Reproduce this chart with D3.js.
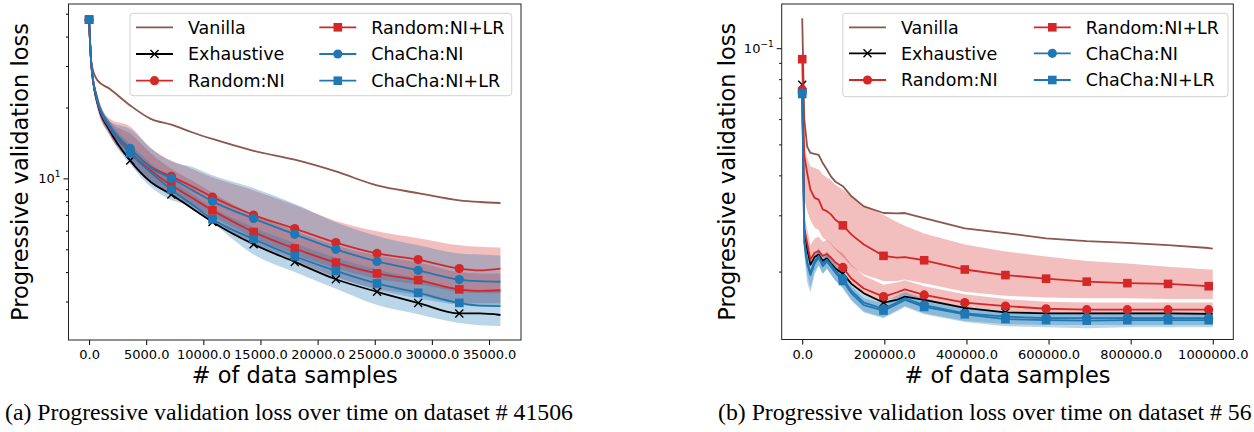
<!DOCTYPE html>
<html>
<head>
<meta charset="utf-8">
<script src="https://cdn.jsdelivr.net/npm/d3@7"></script>
<style>
  body { margin: 0; background: #fff; }
</style>
</head>
<body>
<svg id="chart" width="1254" height="432" style="font-family: 'DejaVu Sans', sans-serif;"></svg>
<script>
// ---------- panel (a): dataset # 41506 ----------
var xA = [0, 200, 700, 1800, 3600, 5400, 7200, 9000, 10800, 14400, 18000, 21600, 25200, 28800, 32400, 34200, 36000];
var markA = [0, 4, 6, 8, 9, 10, 11, 12, 13, 14];

var vanillaA    = [47.2, 31, 26.2, 24.0, 20.4, 17.9, 16.9, 15.7, 14.7, 13.1, 12.0, 10.7, 9.34, 8.66, 8.07, 7.94, 7.86];
var exhaustiveA = [47.2, 30, 21.2, 16.0, 11.9, 9.65, 8.55, 7.46, 6.53, 5.25, 4.42, 3.73, 3.30, 2.96, 2.67, 2.67, 2.63];
var randNIA     = [47.2, 30.5, 21.8, 16.6, 13.3, 11.2, 10.2, 9.25, 8.33, 6.99, 6.12, 5.34, 4.80, 4.52, 4.14, 4.07, 4.14];
var randNIA_hi  = [47.2, 31, 23, 17.9, 16.6, 13.4, 11.9, 11.0, 10.1, 8.9, 7.7, 6.6, 5.96, 5.57, 5.2, 5.12, 5.09];
var randNIA_lo  = [47.2, 29, 20.5, 15.5, 12.0, 9.8, 8.7, 7.7, 6.9, 5.6, 4.75, 4.15, 3.75, 3.55, 3.3, 3.25, 3.25];
var randLRA     = [47.2, 30.5, 21.4, 16.3, 12.9, 10.8, 9.34, 8.27, 7.32, 5.92, 5.04, 4.39, 3.95, 3.70, 3.38, 3.33, 3.35];
var randLRA_hi  = [47.2, 31, 23, 17.5, 15.5, 12.8, 11.0, 9.8, 8.7, 7.0, 6.0, 5.2, 4.7, 4.4, 4.0, 3.95, 3.95];
var randLRA_lo  = [47.2, 29, 20, 15.2, 11.8, 9.6, 8.4, 7.4, 6.5, 5.2, 4.4, 3.8, 3.4, 3.2, 2.95, 2.95, 2.95];
var chaNIA      = [47.2, 30.5, 21.8, 16.8, 13.4, 11.1, 10.0, 8.94, 7.99, 6.75, 5.79, 5.00, 4.44, 4.07, 3.72, 3.66, 3.64];
var chaNIA_hi   = [47.2, 31, 23, 17.5, 16.2, 13.5, 11.8, 11.2, 10.3, 9.1, 7.8, 6.5, 5.7, 5.2, 4.8, 4.75, 4.7];
var chaNIA_lo   = [47.2, 29, 20.5, 15.5, 12.0, 9.7, 8.5, 7.5, 6.6, 5.3, 4.5, 3.8, 3.35, 3.1, 2.9, 2.86, 2.86];
var chaLRA      = [47.2, 30.5, 21.5, 16.5, 12.8, 10.6, 8.96, 7.76, 6.70, 5.53, 4.67, 4.05, 3.58, 3.27, 2.96, 2.88, 2.87];
var chaLRA_hi   = [47.2, 31, 22.5, 17.5, 14.0, 11.6, 9.9, 8.6, 7.5, 6.2, 5.3, 4.6, 4.1, 3.75, 3.4, 3.35, 3.35];
var chaLRA_lo   = [47.2, 29, 20.5, 15.3, 11.5, 9.2, 8.1, 7.6, 6.5, 4.75, 4.0, 3.4, 2.9, 2.65, 2.43, 2.38, 2.36];

var xTicksA = [0, 5000, 10000, 15000, 20000, 25000, 30000, 35000];
var yMajorA = [10];
var yMinorA = [3, 4, 5, 6, 7, 8, 9, 20, 30, 40, 50];

// ---------- panel (b): dataset # 56 ----------
var xB = [0, 5000, 12000, 20000, 30000, 40000, 50000, 60000, 70000, 80000, 99000, 120000, 150000,
          198000, 230000, 250000, 297000, 396000, 495000, 594000, 693000, 792000, 891000, 990000, 1000000];
var markB = [0, 10, 13, 16, 17, 18, 19, 20, 21, 22, 23];

var vanillaB    = [0.124, 0.060, 0.0492, 0.047, 0.0467, 0.0464, 0.0437, 0.0417, 0.0397, 0.0383, 0.0370, 0.0344, 0.0320, 0.0305, 0.0304, 0.0305, 0.0294, 0.0273, 0.0264, 0.0254, 0.0249, 0.0246, 0.0242, 0.0237, 0.0236];
var exhaustiveB = [0.0768, 0.027, 0.0235, 0.021, 0.0222, 0.0226, 0.0216, 0.0220, 0.0212, 0.0205, 0.0197, 0.0183, 0.0171, 0.0160, 0.0163, 0.0167, 0.0163, 0.0154, 0.0149, 0.0148, 0.0148, 0.0148, 0.0148, 0.01475, 0.01475];
var randNIB     = [0.074, 0.0271, 0.0246, 0.0218, 0.0229, 0.0232, 0.0224, 0.0227, 0.0221, 0.0214, 0.0206, 0.0190, 0.0177, 0.0167, 0.0172, 0.0176, 0.0169, 0.0160, 0.0156, 0.0153, 0.0152, 0.0152, 0.0152, 0.0152, 0.0152];
var randNIB_hi  = [0.074, 0.030, 0.0272, 0.0242, 0.0254, 0.0257, 0.0248, 0.0251, 0.0245, 0.0237, 0.0228, 0.0210, 0.0194, 0.0182, 0.0185, 0.0188, 0.0180, 0.0170, 0.0164, 0.0161, 0.0160, 0.0160, 0.0160, 0.0160, 0.0160];
var randNIB_lo  = [0.074, 0.0262, 0.0237, 0.0210, 0.0221, 0.0224, 0.0216, 0.0219, 0.0213, 0.0207, 0.0199, 0.0183, 0.0171, 0.0162, 0.0166, 0.0170, 0.0163, 0.0155, 0.0151, 0.0148, 0.0147, 0.0147, 0.0147, 0.0147, 0.0147];
var randLRB     = [0.0924, 0.046, 0.0407, 0.0361, 0.0340, 0.0336, 0.0313, 0.0309, 0.0302, 0.0291, 0.0279, 0.0261, 0.0243, 0.0224, 0.0221, 0.0222, 0.0217, 0.0203, 0.0195, 0.0190, 0.0186, 0.0184, 0.0183, 0.0180, 0.0180];
var randLRB_hi  = [0.0924, 0.0493, 0.0455, 0.0427, 0.0422, 0.0417, 0.0402, 0.0394, 0.0386, 0.0374, 0.0361, 0.0343, 0.0321, 0.0301, 0.0286, 0.0278, 0.0263, 0.0243, 0.0231, 0.0223, 0.0216, 0.0212, 0.0207, 0.0203, 0.0203];
var randLRB_lo  = [0.0924, 0.034, 0.031, 0.029, 0.0275, 0.0270, 0.0255, 0.0250, 0.0243, 0.0235, 0.0222, 0.0208, 0.0196, 0.0187, 0.0187, 0.0189, 0.0184, 0.0173, 0.0168, 0.0166, 0.0165, 0.0165, 0.0164, 0.0164, 0.0164];
var chaNIB      = [0.0725, 0.025, 0.0215, 0.0198, 0.0215, 0.0224, 0.0211, 0.0218, 0.0210, 0.0202, 0.0190, 0.0174, 0.0160, 0.0153, 0.0160, 0.0165, 0.0157, 0.0148, 0.01445, 0.0143, 0.0143, 0.0143, 0.0143, 0.0143, 0.0143];
var chaNIB_hi   = [0.0725, 0.0266, 0.0228, 0.0210, 0.0228, 0.0237, 0.0224, 0.0231, 0.0223, 0.0214, 0.0201, 0.0184, 0.0169, 0.0161, 0.0168, 0.0173, 0.0165, 0.0155, 0.0151, 0.0149, 0.0149, 0.0149, 0.0149, 0.0149, 0.0149];
var chaNIB_lo   = [0.0725, 0.0232, 0.0195, 0.0178, 0.0200, 0.0209, 0.0197, 0.0204, 0.0196, 0.0188, 0.0178, 0.0163, 0.0150, 0.0144, 0.0151, 0.0156, 0.0148, 0.0140, 0.0137, 0.0136, 0.0136, 0.0136, 0.0136, 0.0136, 0.0136];
var chaLRB      = [0.0719, 0.0245, 0.0212, 0.0195, 0.0212, 0.0221, 0.0208, 0.0215, 0.0207, 0.0199, 0.0187, 0.0171, 0.0157, 0.0151, 0.0158, 0.0163, 0.0155, 0.0147, 0.0142, 0.0141, 0.01405, 0.0141, 0.0141, 0.0141, 0.0141];
var chaLRB_hi   = [0.0719, 0.0258, 0.0223, 0.0205, 0.0223, 0.0232, 0.0218, 0.0226, 0.0217, 0.0209, 0.0196, 0.0180, 0.0165, 0.0159, 0.0166, 0.0171, 0.0163, 0.0154, 0.0149, 0.0148, 0.0148, 0.0148, 0.0148, 0.0148, 0.0148];
var chaLRB_lo   = [0.0719, 0.0225, 0.0185, 0.0172, 0.0195, 0.0209, 0.0197, 0.0204, 0.0196, 0.0188, 0.0177, 0.0162, 0.0149, 0.0143, 0.0150, 0.0155, 0.0147, 0.0139, 0.0135, 0.0134, 0.0133, 0.0134, 0.0134, 0.0134, 0.0134];

var xTicksB = [0, 200000, 400000, 600000, 800000, 1000000];
var yMajorB = [0.1];
var yMinorB = [0.02, 0.03, 0.04, 0.05, 0.06, 0.07, 0.08, 0.09];

// shared
var legendNames = ["Vanilla", "Exhaustive", "Random:NI", "Random:NI+LR", "ChaCha:NI", "ChaCha:NI+LR"];
var xLabel = "# of data samples";
var yLabel = "Progressive validation loss";
var captionA = "(a) Progressive validation loss over time on dataset # 41506";
var captionB = "(b) Progressive validation loss over time on dataset # 56";

var BROWN = "#8c564b", RED = "#d62728", BLUE = "#1f77b4", BLACK = "#000000";
var styles = [
  { color: BROWN, marker: null },
  { color: BLACK, marker: "x" },
  { color: RED, marker: "circle" },
  { color: RED, marker: "square" },
  { color: BLUE, marker: "circle" },
  { color: BLUE, marker: "square" }
];

var svg = d3.select("#chart");

function drawMarker(g, type, cx, cy, color) {
  if (type === "circle") {
    g.append("circle").attr("cx", cx).attr("cy", cy).attr("r", 4.6).attr("fill", color);
  } else if (type === "square") {
    g.append("rect").attr("x", cx - 4.3).attr("y", cy - 4.3)
      .attr("width", 8.6).attr("height", 8.6).attr("fill", color);
  } else if (type === "x") {
    g.append("path")
      .attr("d", "M" + (cx - 4) + "," + (cy - 4) + "L" + (cx + 4) + "," + (cy + 4) +
                 "M" + (cx - 4) + "," + (cy + 4) + "L" + (cx + 4) + "," + (cy - 4))
      .attr("stroke", color).attr("stroke-width", 1.4).attr("fill", "none");
  }
}

function panel(p) {
  var g = svg.append("g");
  var x = d3.scaleLinear().domain(p.xDomain).range([p.left, p.right]);
  var y = d3.scaleLog().domain(p.yDomain).range([p.bottom, p.top]);

  var clipId = "clip" + p.id;
  svg.append("clipPath").attr("id", clipId).append("rect")
    .attr("x", p.left).attr("y", p.top)
    .attr("width", p.right - p.left).attr("height", p.bottom - p.top);
  var plot = g.append("g").attr("clip-path", "url(#" + clipId + ")");

  // bands first (matplotlib draws fills below lines)
  p.series.forEach(function(s, i) {
    if (!s.lo) return;
    var area = d3.area()
      .x(function(d, j) { return x(p.xs[j]); })
      .y0(function(d, j) { return y(s.lo[j]); })
      .y1(function(d, j) { return y(s.hi[j]); })
      .curve(p.curve);
    plot.append("path").datum(s.values).attr("d", area)
      .attr("fill", styles[i].color).attr("fill-opacity", 0.3);
  });

  // lines + markers
  p.series.forEach(function(s, i) {
    var line = d3.line()
      .x(function(d, j) { return x(p.xs[j]); })
      .y(function(d) { return y(d); })
      .curve(p.curve);
    plot.append("path").datum(s.values).attr("d", line)
      .attr("fill", "none").attr("stroke", styles[i].color)
      .attr("stroke-width", 1.8).attr("stroke-linejoin", "round");
    if (styles[i].marker) {
      p.marks.forEach(function(j) {
        drawMarker(plot, styles[i].marker, x(p.xs[j]), y(s.values[j]), styles[i].color);
      });
    }
  });

  // x axis
  var xAxis = g.append("g").attr("transform", "translate(0," + p.bottom + ")")
    .call(d3.axisBottom(x).tickValues(p.xTicks).tickFormat(d3.format(".1f"))
      .tickSize(5).tickPadding(5).tickSizeOuter(0));
  xAxis.select(".domain").remove();
  xAxis.selectAll("text").attr("font-size", 13).attr("font-family", "DejaVu Sans").attr("fill", "#000");

  // y axis: minor ticks
  var yMin = g.append("g").attr("transform", "translate(" + p.left + ",0)")
    .call(d3.axisLeft(y).tickValues(p.yMinor).tickFormat("").tickSize(2.5).tickSizeOuter(0));
  yMin.select(".domain").remove();
  // y axis: major ticks with 10^n labels
  var yMaj = g.append("g").attr("transform", "translate(" + p.left + ",0)")
    .call(d3.axisLeft(y).tickValues(p.yMajor).tickFormat("").tickSize(5).tickSizeOuter(0));
  yMaj.select(".domain").remove();
  p.yMajor.forEach(function(v) {
    var t = g.append("text").attr("x", p.left - 8).attr("y", y(v) + 4.5)
      .attr("text-anchor", "end").attr("font-size", 13).attr("fill", "#000");
    t.append("tspan").text("10");
    t.append("tspan").attr("font-size", 9).attr("dy", -6).text(p.expLabel(v));
  });

  // frame
  g.append("rect").attr("x", p.left).attr("y", p.top)
    .attr("width", p.right - p.left).attr("height", p.bottom - p.top)
    .attr("fill", "none").attr("stroke", "#222").attr("stroke-width", 1);

  // axis labels
  g.append("text").attr("x", (p.left + p.right) / 2).attr("y", 383)
    .attr("text-anchor", "middle").attr("font-size", 22.5).text(xLabel);
  g.append("text").attr("transform", "translate(" + p.yLabelX + "," + ((p.top + p.bottom) / 2) + ") rotate(-90)")
    .attr("text-anchor", "middle").attr("font-size", 22.5).text(yLabel);

  // legend
  var L = p.legend;
  var lg = g.append("g");
  lg.append("rect").attr("x", L.x).attr("y", L.y).attr("width", L.w).attr("height", L.h)
    .attr("rx", 3).attr("fill", "#fff").attr("fill-opacity", 0.8)
    .attr("stroke", "#d0d0d0").attr("stroke-width", 1);
  legendNames.forEach(function(name, i) {
    var col = Math.floor(i / 3), row = i % 3;
    var cy = L.rows[row];
    var hx0 = L.cols[col], hx1 = hx0 + 37;
    lg.append("line").attr("x1", hx0).attr("x2", hx1).attr("y1", cy).attr("y2", cy)
      .attr("stroke", styles[i].color).attr("stroke-width", 1.8);
    if (styles[i].marker) drawMarker(lg, styles[i].marker, (hx0 + hx1) / 2, cy, styles[i].color);
    lg.append("text").attr("x", hx1 + 15).attr("y", cy + 6.4)
      .attr("font-size", 17.5).attr("fill", "#000").text(name);
  });
}

panel({
  id: "A", left: 68.5, right: 521, top: 4, bottom: 340,
  xDomain: [-1800, 37800], yDomain: [2.06, 55],
  xs: xA, marks: markA, curve: d3.curveMonotoneX,
  series: [
    { values: vanillaA },
    { values: exhaustiveA },
    { values: randNIA, lo: randNIA_lo, hi: randNIA_hi },
    { values: randLRA, lo: randLRA_lo, hi: randLRA_hi },
    { values: chaNIA, lo: chaNIA_lo, hi: chaNIA_hi },
    { values: chaLRA, lo: chaLRA_lo, hi: chaLRA_hi }
  ],
  xTicks: xTicksA, yMajor: yMajorA, yMinor: yMinorA,
  expLabel: function(v) { return String(Math.round(Math.log10(v))); },
  yLabelX: 28,
  legend: { x: 130, y: 13.3, w: 381.7, h: 82.4, rows: [27.3, 54, 80.7], cols: [136, 319.3] }
});

panel({
  id: "B", left: 781.7, right: 1233.3, top: 4, bottom: 339.5,
  xDomain: [-50000, 1050000], yDomain: [0.01226, 0.1375],
  xs: xB, marks: markB, curve: d3.curveLinear,
  series: [
    { values: vanillaB },
    { values: exhaustiveB },
    { values: randNIB, lo: randNIB_lo, hi: randNIB_hi },
    { values: randLRB, lo: randLRB_lo, hi: randLRB_hi },
    { values: chaNIB, lo: chaNIB_lo, hi: chaNIB_hi },
    { values: chaLRB, lo: chaLRB_lo, hi: chaLRB_hi }
  ],
  xTicks: xTicksB, yMajor: yMajorB, yMinor: yMinorB,
  expLabel: function(v) { return "\u2212" + Math.round(-Math.log10(v)); },
  yLabelX: 735,
  legend: { x: 842.8, y: 13.3, w: 385.2, h: 83.4, rows: [27.3, 53.3, 80], cols: [849, 1033.8] }
});

// captions (Times-like serif), sized so (a) spans its width in the figure
var serif = "'Liberation Serif', 'Times New Roman', serif";
var capA = svg.append("text").attr("x", 5).attr("y", 420)
  .style("font-family", serif).attr("font-size", 20).text(captionA);
var fs = 20 * 568 / capA.node().getComputedTextLength();
capA.attr("font-size", fs);
svg.append("text").attr("x", 718).attr("y", 420)
  .style("font-family", serif).attr("font-size", fs).text(captionB);
</script>
</body>
</html>
